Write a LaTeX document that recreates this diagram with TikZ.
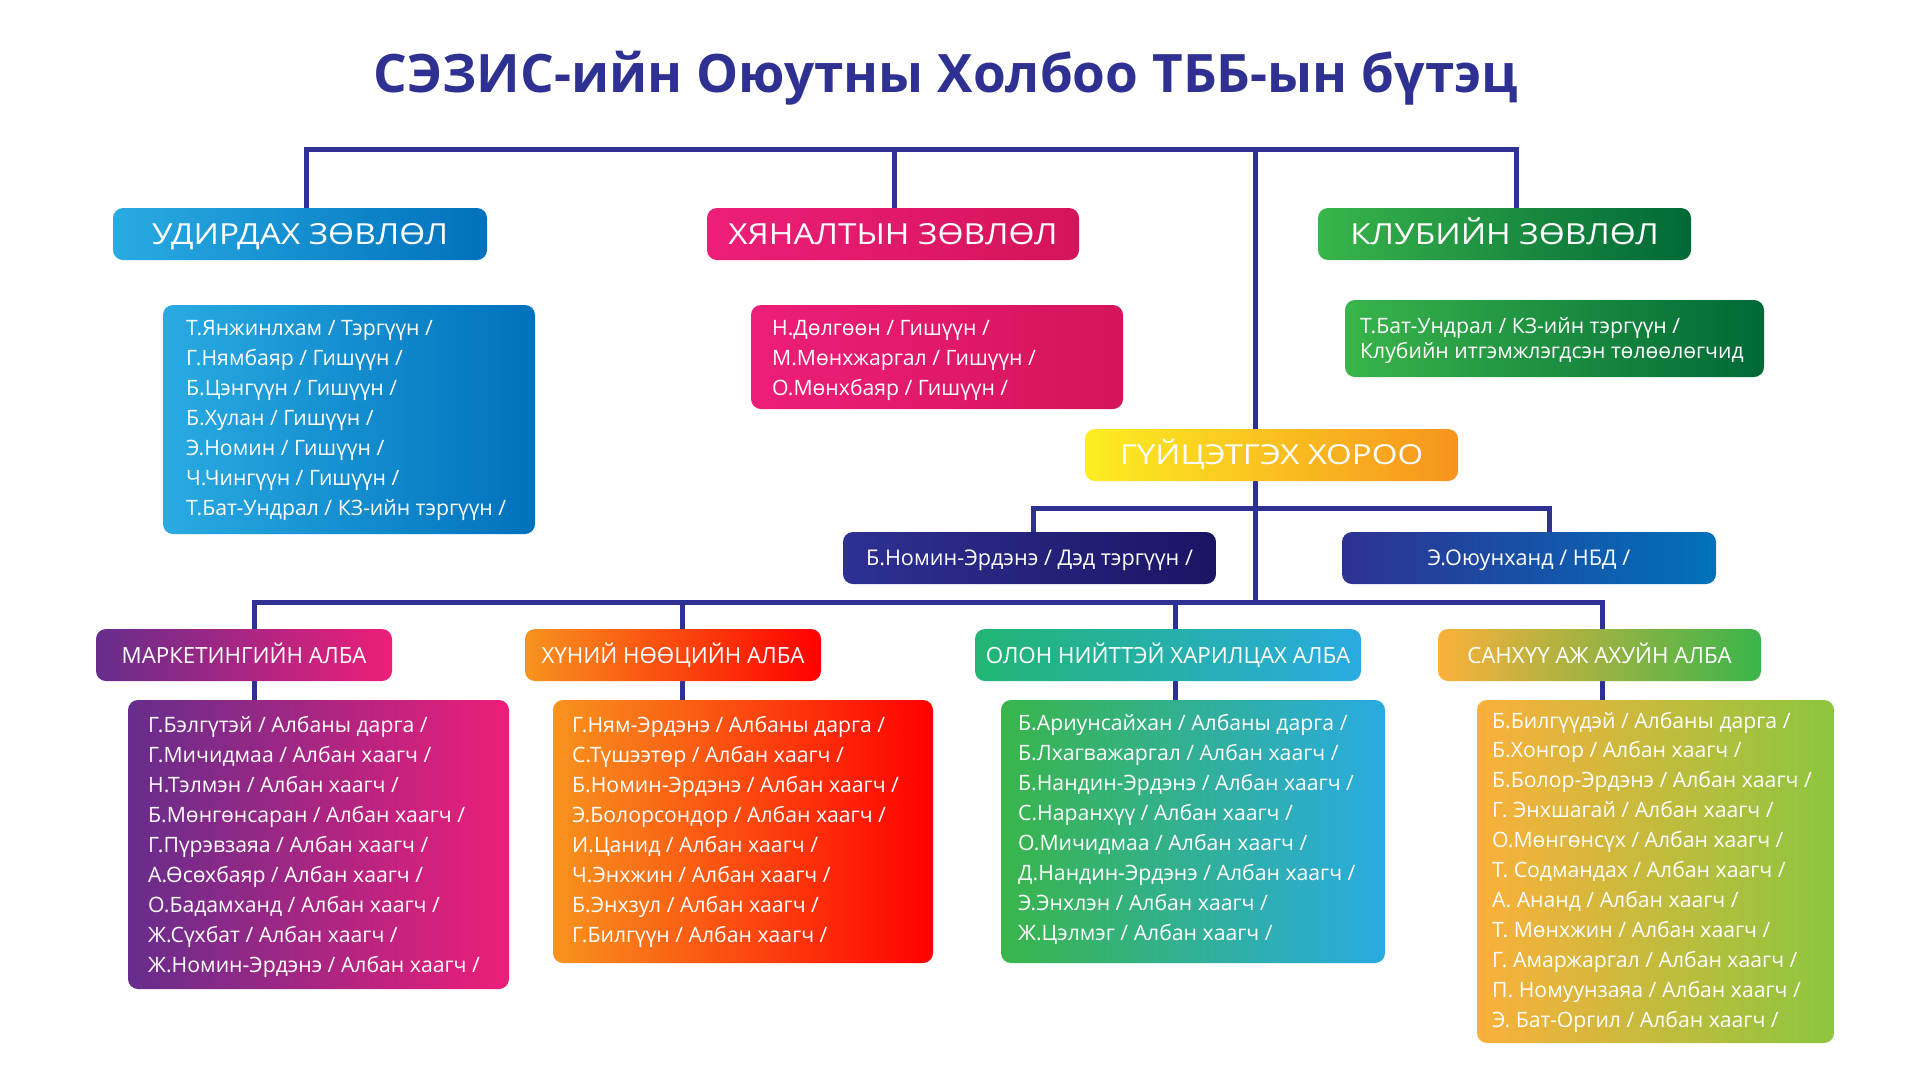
\documentclass[tikz,border=0pt]{standalone}
\usepackage{fontspec}
\usepackage{graphicx}
\setmainfont{Open Sans}
\usetikzlibrary{backgrounds}
\definecolor{navy}{HTML}{2E3192}
\definecolor{udA}{HTML}{29ABE2}\definecolor{udB}{HTML}{0071BC}
\definecolor{hyA}{HTML}{ED1E79}\definecolor{hyB}{HTML}{D4145A}
\definecolor{klA}{HTML}{39B54A}\definecolor{klB}{HTML}{006837}
\definecolor{guA}{HTML}{FCEE21}\definecolor{guB}{HTML}{F7931E}
\definecolor{dA}{HTML}{2E3192}\definecolor{dB}{HTML}{1B1464}
\definecolor{eB}{HTML}{0071BC}
\definecolor{mkA}{HTML}{662D8C}\definecolor{mkB}{HTML}{ED1E79}
\definecolor{hrA}{HTML}{F7931E}\definecolor{hrB}{HTML}{FF0000}
\definecolor{prHA}{HTML}{22B573}\definecolor{prMA}{HTML}{39B54A}\definecolor{prB}{HTML}{29ABE2}
\definecolor{fiA}{HTML}{FBB03B}\definecolor{fiHB}{HTML}{39B54A}\definecolor{fiMB}{HTML}{8CC63F}
\newcommand\widetxt[2]{\scalebox{#1}[1]{#2}}
\tikzset{
  conn/.style={draw=navy, line width=5pt, line join=miter},
  gbox/.style 2 args={rounded corners=10pt, inner sep=0pt, outer sep=0pt, text=white, left color=#1, right color=#2, shading angle=90},
  bighead/.style={font=\fontsize{29}{34}\selectfont, text height=21pt, text depth=0pt},
  yhead/.style={font=\fontsize{27.5}{32}\selectfont, text height=19.6pt, text depth=0pt},
  dhead/.style={font=\fontsize{22.3}{27}\selectfont, text height=16pt, text depth=0pt},
  deptext/.style={font=\fontsize{21.6}{26}\selectfont, text height=15.4pt, text depth=0pt},
  mtext/.style={font=\fontsize{21.2}{26}\selectfont, text=white, inner sep=0pt, anchor=base west},
}
\newcommand\memberlist[5]{%
  \foreach \t [count=\i] in {#5} {\node[mtext] (#1\i) at (#2, {#3+(\i-1)*#4}) {\t};}}
\begin{document}
\begin{tikzpicture}[x=1pt, y=-1pt]
\useasboundingbox (0,0) rectangle (1920,1080);
% title
\node[anchor=base, text=navy, font=\fontsize{53}{60}\selectfont\bfseries, inner sep=0pt] (title) at (946,92) {СЭЗИС-ийн Оюутны Холбоо ТББ-ын бүтэц};
% connector coordinates
\coordinate (tb1) at (306,149.5);
\coordinate (tb2) at (894,149.5);
\coordinate (tb3) at (1255,149.5);
\coordinate (tb4) at (1516,149.5);
\coordinate (db1) at (1033,508);
\coordinate (db2) at (1549,508);
\coordinate (lb1) at (254.5,602);
\coordinate (lb2) at (682,602);
\coordinate (lb3) at (1175,602);
\coordinate (lb4) at (1602,602);
% boxes (top level)
\node[gbox={udA}{udB}, bighead, minimum width=374pt, minimum height=52pt] (ud) at (300,234) {\widetxt{1.15}{УДИРДАХ ЗӨВЛӨЛ}};
\node[gbox={hyA}{hyB}, bighead, minimum width=372pt, minimum height=52pt] (hy) at (893,234) {\widetxt{1.15}{ХЯНАЛТЫН ЗӨВЛӨЛ}};
\node[gbox={klA}{klB}, bighead, minimum width=373pt, minimum height=52pt] (kl) at (1504.5,234) {\widetxt{1.15}{КЛУБИЙН ЗӨВЛӨЛ}};
\node[gbox={udA}{udB}, minimum width=372pt, minimum height=229pt] (udm) at (349,419.5) {};
\node[gbox={hyA}{hyB}, minimum width=372pt, minimum height=104pt] (hym) at (937,357) {};
\node[gbox={klA}{klB}, minimum width=419pt, minimum height=77pt] (klm) at (1554.5,338.5) {};
\node[gbox={guA}{guB}, yhead, minimum width=373pt, minimum height=52pt] (gu) at (1271.5,455) {\widetxt{1.2}{ГҮЙЦЭТГЭХ ХОРОО}};
\node[gbox={dA}{dB}, deptext, minimum width=373pt, minimum height=52pt] (dep1) at (1029.5,558) {Б.Номин-Эрдэнэ / Дэд тэргүүн /};
\node[gbox={dA}{eB}, deptext, minimum width=374pt, minimum height=52pt] (dep2) at (1529,558) {Э.Оюунханд / НБД /};
% departments
\node[gbox={mkA}{mkB}, dhead, minimum width=296pt, minimum height=52pt] (mk) at (244,655) {МАРКЕТИНГИЙН АЛБА};
\node[gbox={mkA}{mkB}, minimum width=381pt, minimum height=289pt] (mkm) at (318.5,844.5) {};
\node[gbox={hrA}{hrB}, dhead, minimum width=296pt, minimum height=52pt] (hr) at (673,655) {ХҮНИЙ НӨӨЦИЙН АЛБА};
\node[gbox={hrA}{hrB}, minimum width=380pt, minimum height=263pt] (hrm) at (743,831.5) {};
\node[gbox={prHA}{prB}, dhead, minimum width=386pt, minimum height=52pt] (pr) at (1168,655) {ОЛОН НИЙТТЭЙ ХАРИЛЦАХ АЛБА};
\node[gbox={prMA}{prB}, minimum width=384pt, minimum height=263pt] (prm) at (1193,831.5) {};
\node[gbox={fiA}{fiHB}, dhead, minimum width=323pt, minimum height=52pt] (fi) at (1599.5,655) {САНХҮҮ АЖ АХУЙН АЛБА};
\node[gbox={fiA}{fiMB}, minimum width=357pt, minimum height=343pt] (fim) at (1655.5,871.5) {};
% connectors (behind boxes)
\begin{scope}[on background layer]
\fill[white] (0,0) rectangle (1920,1080);
\draw[conn] (tb1 |- ud.north) -- (tb1) -- (tb4) -- (tb4 |- kl.north);
\draw[conn] (tb2) -- (tb2 |- hy.north);
\draw[conn] (tb3) -- (tb3 |- lb1);
\draw[conn] (db1 |- dep1.north) -- (db1) -- (db2) -- (db2 |- dep2.north);
\draw[conn] (lb1 |- mk.north) -- (lb1) -- (lb4) -- (lb4 |- fi.north);
\draw[conn] (lb2) -- (lb2 |- hr.north);
\draw[conn] (lb3) -- (lb3 |- pr.north);
\draw[conn] (lb1 |- mk.south) -- (lb1 |- mkm.north);
\draw[conn] (lb2 |- hr.south) -- (lb2 |- hrm.north);
\draw[conn] (lb3 |- pr.south) -- (lb3 |- prm.north);
\draw[conn] (lb4 |- fi.south) -- (lb4 |- fim.north);
\end{scope}
% member lists
\memberlist{u}{186}{335}{30}{{Т.Янжинлхам / Тэргүүн /},{Г.Нямбаяр / Гишүүн /},{Б.Цэнгүүн / Гишүүн /},{Б.Хулан / Гишүүн /},{Э.Номин / Гишүүн /},{Ч.Чингүүн / Гишүүн /},{Т.Бат-Ундрал / КЗ-ийн тэргүүн /}}
\memberlist{h}{772}{335}{30}{{Н.Дөлгөөн / Гишүүн /},{М.Мөнхжаргал / Гишүүн /},{О.Мөнхбаяр / Гишүүн /}}
\memberlist{k}{1360}{333}{25}{{Т.Бат-Ундрал / КЗ-ийн тэргүүн /},{Клубийн итгэмжлэгдсэн төлөөлөгчид}}
\memberlist{m}{148}{732}{30}{{Г.Бэлгүтэй / Албаны дарга /},{Г.Мичидмаа / Албан хаагч /},{Н.Тэлмэн / Албан хаагч /},{Б.Мөнгөнсаран / Албан хаагч /},{Г.Пүрэвзаяа / Албан хаагч /},{А.Өсөхбаяр / Албан хаагч /},{О.Бадамханд / Албан хаагч /},{Ж.Сүхбат / Албан хаагч /},{Ж.Номин-Эрдэнэ / Албан хаагч /}}
\memberlist{r}{572}{732}{30}{{Г.Ням-Эрдэнэ / Албаны дарга /},{С.Түшээтөр / Албан хаагч /},{Б.Номин-Эрдэнэ / Албан хаагч /},{Э.Болорсондор / Албан хаагч /},{И.Цанид / Албан хаагч /},{Ч.Энхжин / Албан хаагч /},{Б.Энхзул / Албан хаагч /},{Г.Билгүүн / Албан хаагч /}}
\memberlist{p}{1018}{730}{30}{{Б.Ариунсайхан / Албаны дарга /},{Б.Лхагважаргал / Албан хаагч /},{Б.Нандин-Эрдэнэ / Албан хаагч /},{С.Наранхүү / Албан хаагч /},{О.Мичидмаа / Албан хаагч /},{Д.Нандин-Эрдэнэ / Албан хаагч /},{Э.Энхлэн / Албан хаагч /},{Ж.Цэлмэг / Албан хаагч /}}
\memberlist{f}{1492}{728}{29.9}{{Б.Билгүүдэй / Албаны дарга /},{Б.Хонгор / Албан хаагч /},{Б.Болор-Эрдэнэ / Албан хаагч /},{Г. Энхшагай / Албан хаагч /},{О.Мөнгөнсүх / Албан хаагч /},{Т. Содмандах / Албан хаагч /},{А. Ананд / Албан хаагч /},{Т. Мөнхжин / Албан хаагч /},{Г. Амаржаргал / Албан хаагч /},{П. Номуунзаяа / Албан хаагч /},{Э. Бат-Оргил / Албан хаагч /}}
\end{tikzpicture}
\end{document}
